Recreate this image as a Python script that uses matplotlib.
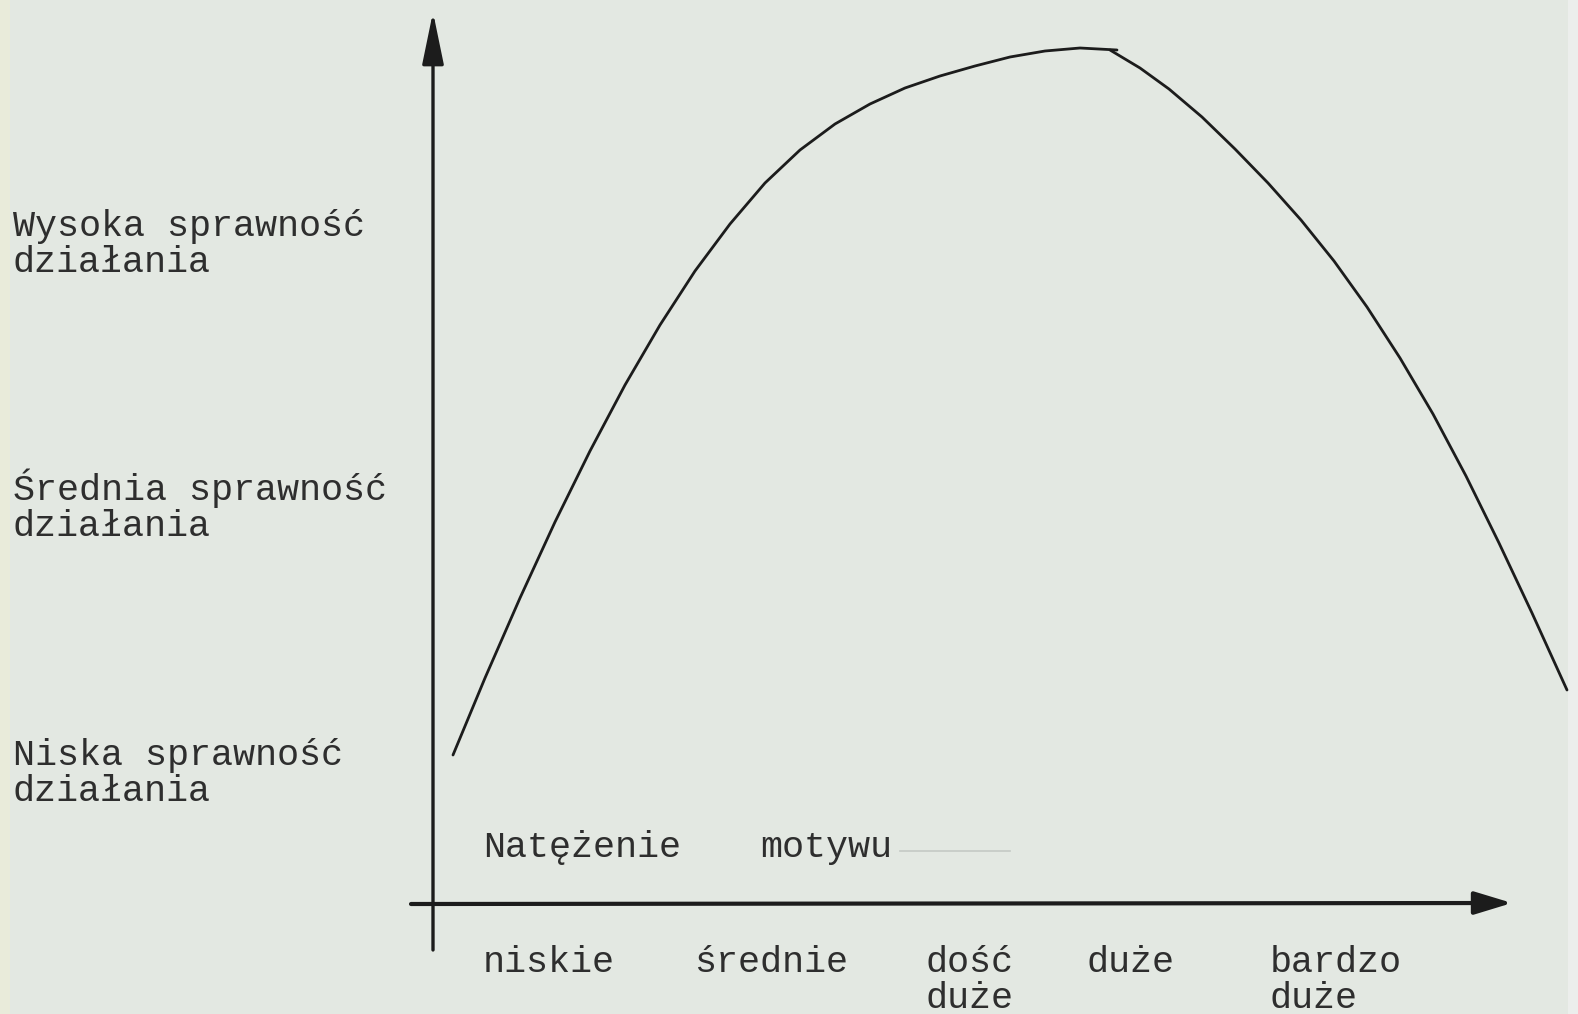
import matplotlib.pyplot as plt

# --- dane (jednostki = piksele obrazu 1578x1014) ---
# krzywa: narastająca część (do szczytu) i opadająca część
rise_x = [453, 485, 520, 555, 590, 625, 660, 695, 730, 765, 800, 835, 870, 905, 940, 975,
          1010, 1045, 1080, 1117]
rise_y = [755, 678, 598, 522, 451, 385, 325, 271, 224, 183, 150, 124, 104, 88, 76, 66,
          57, 51, 48, 50]
fall_x = [1110, 1140, 1169, 1202, 1235, 1268, 1301, 1334, 1367, 1400, 1433, 1466, 1499, 1532, 1567]
fall_y = [50, 68, 89, 117, 149, 183, 220, 261, 307, 358, 414, 476, 543, 613, 690]

# opisy osi Y (poziomy sprawności)
level_labels = [['Wysoka sprawność', 'działania'],
                ['Średnia sprawność', 'działania'],
                ['Niska sprawność', 'działania']]
level_pos = [236, 500, 765]

# opisy osi X (natężenie motywu)
x_labels = [['niskie'], ['średnie'], ['dość', 'duże'], ['duże'], ['bardzo', 'duże']]
x_pos = [483, 694, 926, 1087, 1270]
x_title = ['Natężenie', 'motywu']
x_title_pos = [483, 760]

ink = '#1c1c1c'
txt = '#2e2e2e'
font = 'Liberation Mono'
fs = 26.5
line_h = 36

fig = plt.figure(figsize=(15.78, 10.14), dpi=100)
fig.patch.set_facecolor('#e3e8e2')
ax = fig.add_axes([0, 0, 1, 1])
ax.set_xlim(0, 1578)
ax.set_ylim(1014, 0)
ax.axis('off')

# brzegi skanu
ax.axvspan(0, 10, color='#e9ebda', lw=0)
ax.axvspan(1568, 1578, color='#eceeec', lw=0)

# osie ze strzałkami
ax.annotate('', xy=(433, 12), xytext=(433, 950),
            arrowprops=dict(arrowstyle='-|>,head_length=1.6,head_width=0.33',
                            mutation_scale=20, color=ink, lw=2.4, shrinkA=0, shrinkB=0))
ax.annotate('', xy=(1512, 903), xytext=(411, 904),
            arrowprops=dict(arrowstyle='-|>,head_length=1.15,head_width=0.35',
                            mutation_scale=20, color=ink, lw=3.0, shrinkA=0, shrinkB=0))

# krzywa
ax.plot(rise_x, rise_y, color=ink, lw=2.0, solid_capstyle='round', solid_joinstyle='round')
ax.plot(fall_x, fall_y, color=ink, lw=2.0, solid_capstyle='round', solid_joinstyle='round')

# teksty
for lines, y in zip(level_labels, level_pos):
    for i, s in enumerate(lines):
        ax.text(13, y + i * line_h, s, fontsize=fs, family=font, color=txt,
                va='baseline', ha='left')

for lines, x in zip(x_labels, x_pos):
    for i, s in enumerate(lines):
        ax.text(x, 972 + i * line_h, s, fontsize=fs, family=font, color=txt,
                va='baseline', ha='left')

for lab, x in zip(x_title, x_title_pos):
    ax.text(x, 857, lab, fontsize=fs, family=font, color=txt, va='baseline', ha='left')

# blady ślad kreski za napisem "motywu"
ax.plot([900, 1010], [851, 851], color='#c4c9c4', lw=1.2)

fig.savefig('out.png', dpi=100, facecolor=fig.get_facecolor())
